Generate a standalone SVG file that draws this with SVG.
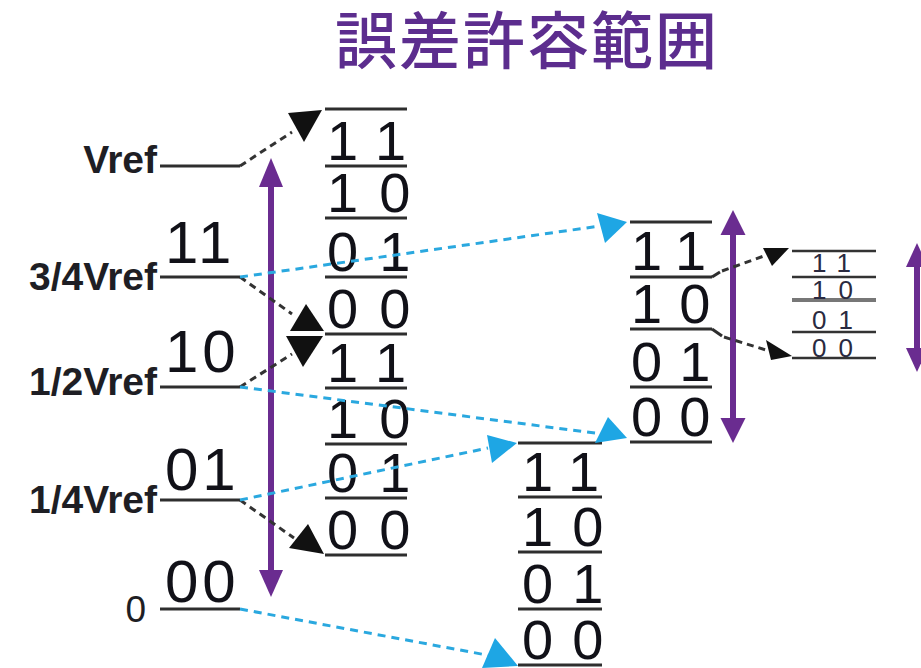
<svg xmlns="http://www.w3.org/2000/svg" width="921" height="668" viewBox="0 0 921 668">
<style>
.bg{fill:#ffffff}
.title{font-family:"Noto Sans CJK JP","Noto Sans CJK SC",sans-serif;font-size:62px;font-weight:500;fill:#5c2d8e;letter-spacing:2px}
.lbl{font-family:"Liberation Sans",Arial,sans-serif;font-size:39px;font-weight:bold;fill:#1e1e24;text-anchor:end}
.code{font-family:"Liberation Sans",Arial,sans-serif;font-size:60px;fill:#111118;letter-spacing:4px}
.d{font-family:"Liberation Sans",Arial,sans-serif;font-size:56px;fill:#111118}
.ds{font-family:"Liberation Sans",Arial,sans-serif;font-size:26px;fill:#2a2a40;letter-spacing:12px}
.ln{stroke:#2e2e2e;stroke-width:3;fill:none}
.lns{stroke:#333;stroke-width:2.5;fill:none}
.bk{stroke:#333;stroke-width:3;stroke-dasharray:7 5;fill:none}
.bl{stroke:#2aa8df;stroke-width:3;stroke-dasharray:8 6;fill:none}
.hb{fill:#111}
.hc{fill:#1ea6e4}
.pa{stroke:#6a2c90;stroke-width:6;fill:none}
.ph{fill:#6a2c90}
</style>
<rect class="bg" x="0" y="0" width="921" height="668"/>

<g id="title">
<text class="title" x="335" y="64">誤差許容範囲</text>
</g>

<g id="levels">
<text class="lbl" x="157" y="173">Vref</text>
<text class="lbl" x="157" y="290">3/4Vref</text>
<text class="lbl" x="157" y="395">1/2Vref</text>
<text class="lbl" x="157" y="513">1/4Vref</text>
<text class="lbl" x="146" y="622" style="font-size:37px;font-weight:normal">0</text>
<path class="ln" d="M160 166H240M160 277H240M160 387H240M160 500H240M160 609H240"/>
<text class="code" x="165" y="263">11</text>
<text class="code" x="165" y="372">10</text>
<text class="code" x="165" y="490">01</text>
<text class="code" x="165" y="602">00</text>
</g>

<g id="range-main">
<line class="pa" x1="271" y1="182" x2="271" y2="575"/>
<polygon class="ph" points="271,158 283,187 259,187"/>
<polygon class="ph" points="271,597 283,570 259,570"/>
</g>

<g id="column1">
<path class="ln" d="M325 109H407M325 166H407M325 218H407M325 277H407M325 334H407M325 388H407M325 444H407M325 498H407M325 555H407"/>
<g class="d" style="letter-spacing:21px">
<text x="327" y="160">11</text>
<text x="327" y="212">10</text>
<text x="327" y="271">01</text>
<text x="327" y="328">00</text>
<text x="327" y="382">11</text>
<text x="327" y="438">10</text>
<text x="327" y="492">01</text>
<text x="327" y="549">00</text>
</g>
</g>

<g id="column2">
<path class="ln" d="M518 443H602M518 497H602M518 552H602M518 609H602M518 665H602"/>
<g class="d" style="letter-spacing:19px">
<text x="522" y="491">11</text>
<text x="522" y="546">10</text>
<text x="522" y="603">01</text>
<text x="522" y="659">00</text>
</g>
</g>

<g id="column3">
<path class="ln" d="M630 222H712M630 277H712M630 329H712M630 387H712M630 442H712"/>
<g class="d" style="letter-spacing:17px">
<text x="631" y="270">11</text>
<text x="631" y="323">10</text>
<text x="631" y="381">01</text>
<text x="631" y="436">00</text>
</g>
</g>

<g id="range-col3">
<line class="pa" x1="733" y1="230" x2="733" y2="423"/>
<polygon class="ph" points="733,210 745.5,235 720.5,235"/>
<polygon class="ph" points="733,443 745.5,418 720.5,418"/>
</g>

<g id="column4">
<path class="lns" d="M792 251H876M792 277H876M792 332H876M792 358H876"/>
<path d="M792 300H876" style="stroke:#777;stroke-width:4;fill:none"/>
<text class="ds" x="812" y="272">11</text>
<text class="ds" x="812" y="299">10</text>
<text class="ds" x="812" y="329">01</text>
<text class="ds" x="812" y="357">00</text>
</g>

<g id="range-col4">
<line class="pa" x1="917" y1="262" x2="917" y2="352"/>
<polygon class="ph" points="917,243 928,267 906,267"/>
<polygon class="ph" points="917,372 928,348 906,348"/>
</g>

<g id="connectors">
<path class="bk" d="M240 166L292 132"/>
<polygon class="hb" points="288,113 322,110 304,142"/>
<path class="bk" d="M240 277L292 314"/>
<polygon class="hb" points="306,304 324,331 290,331"/>
<path class="bk" d="M240 387L292 354"/>
<polygon class="hb" points="286,336 323,336 303,367"/>
<path class="bk" d="M240 500L294 538"/>
<polygon class="hb" points="308,524 324,554 289,548"/>
<path class="bl" d="M240 277L600 226"/>
<polygon class="hc" points="597,213 627,222 605,243"/>
<path class="bl" d="M240 387L602 434"/>
<polygon class="hc" points="608,417 627,438 595,443"/>
<path class="bl" d="M240 500L488 448"/>
<polygon class="hc" points="487,435 517,443 492,463"/>
<path class="bl" d="M240 609L492 656"/>
<polygon class="hc" points="495,638 518,666 482,668"/>
<path class="ln" d="M712 277L720 272"/>
<path class="bk" d="M722 271L764 256"/>
<polygon class="hb" points="763,248 789,248 772,266"/>
<path class="ln" d="M712 329L722 336"/>
<path class="bk" d="M724 337L766 350"/>
<polygon class="hb" points="766,340 771,360 792,356"/>
</g>
</svg>
